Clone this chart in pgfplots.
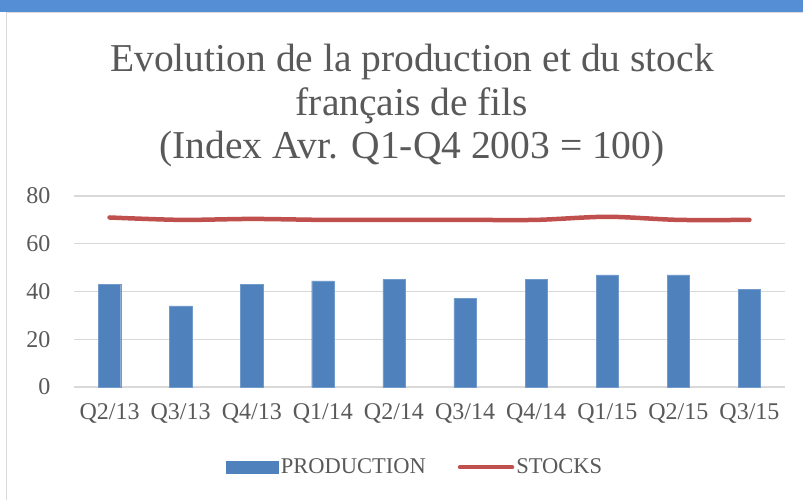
\documentclass[border=0pt]{standalone}
\usepackage{pgfplots}
\pgfplotsset{compat=1.18}
\usepackage{fontspec}
\setmainfont{Liberation Serif}

\definecolor{barblue}{HTML}{4F81BD}
\definecolor{linered}{HTML}{C0504D}
\definecolor{txtgray}{HTML}{595959}
\definecolor{gridgray}{HTML}{D9D9D9}
\definecolor{stripblue}{HTML}{558ED5}

\begin{document}
\begin{tikzpicture}
\useasboundingbox (0pt,0pt) rectangle (803pt,500pt);
\fill[white] (0pt,0pt) rectangle (803pt,500pt);
\fill[stripblue] (0pt,488pt) rectangle (803pt,500pt);
\draw[gridgray,line width=1pt] (6.5pt,0pt) -- (6.5pt,487.5pt) -- (803pt,487.5pt);

% title, three lines
\node[anchor=base,text=txtgray,font=\fontsize{39.5}{45}\selectfont] at (412pt,428pt) {Evolution de la production et du stock};
\node[anchor=base,text=txtgray,font=\fontsize{39.5}{45}\selectfont] at (412pt,384pt) {français de fils};
\node[anchor=base,text=txtgray,font=\fontsize{39.5}{45}\selectfont] at (412pt,341pt) {(Index Avr. Q1-Q4 2003 = 100)};

\begin{axis}[
  at={(74pt,113pt)}, anchor=south west,
  scale only axis, width=711pt, height=191pt,
  xmin=-0.5, xmax=9.5, ymin=0, ymax=80,
  ytick={0,20,40,60,80},
  xtick={0,...,9},
  xticklabels={Q2/13,Q3/13,Q4/13,Q1/14,Q2/14,Q3/14,Q4/14,Q1/15,Q2/15,Q3/15},
  axis line style={draw=none},
  major tick length=0pt,
  ymajorgrids, grid style={gridgray,line width=1.2pt},
  tick label style={text=txtgray,font=\fontsize{24}{26}\selectfont},
  yticklabel style={xshift=-20pt},
  xticklabel style={yshift=-13pt},
  /pgf/number format/assume math mode=true,
  legend columns=2,
  legend style={at={(0.48,-0.42)},anchor=center,draw=none,fill=none,
    font=\fontsize{22.5}{24}\selectfont,text=txtgray,
    /tikz/every even column/.append style={column sep=30pt}},
  clip=false,
]
\addplot[ybar, bar width=22.3pt, fill=barblue, draw=barblue!80!white, forget plot]
  coordinates {(0,43) (1,34) (2,43) (3,44.5) (4,45) (5,37) (6,45) (7,47) (8,47) (9,41)};
\addlegendimage{legend image code/.code={\fill[barblue] (0pt,-6pt) rectangle (52pt,6pt);}}
\addlegendentry{PRODUCTION}
\addplot[linered, line width=4.5pt, smooth, line cap=round,
  legend image code/.code={\draw[linered,line width=4.5pt,line cap=round] (2pt,0pt) -- (54pt,0pt);}]
  coordinates {(0,71) (1,70) (2,70.4) (3,70) (4,70) (5,70) (6,70) (7,71.3) (8,70) (9,70)};
\addlegendentry{STOCKS}
\end{axis}
\end{tikzpicture}
\end{document}
